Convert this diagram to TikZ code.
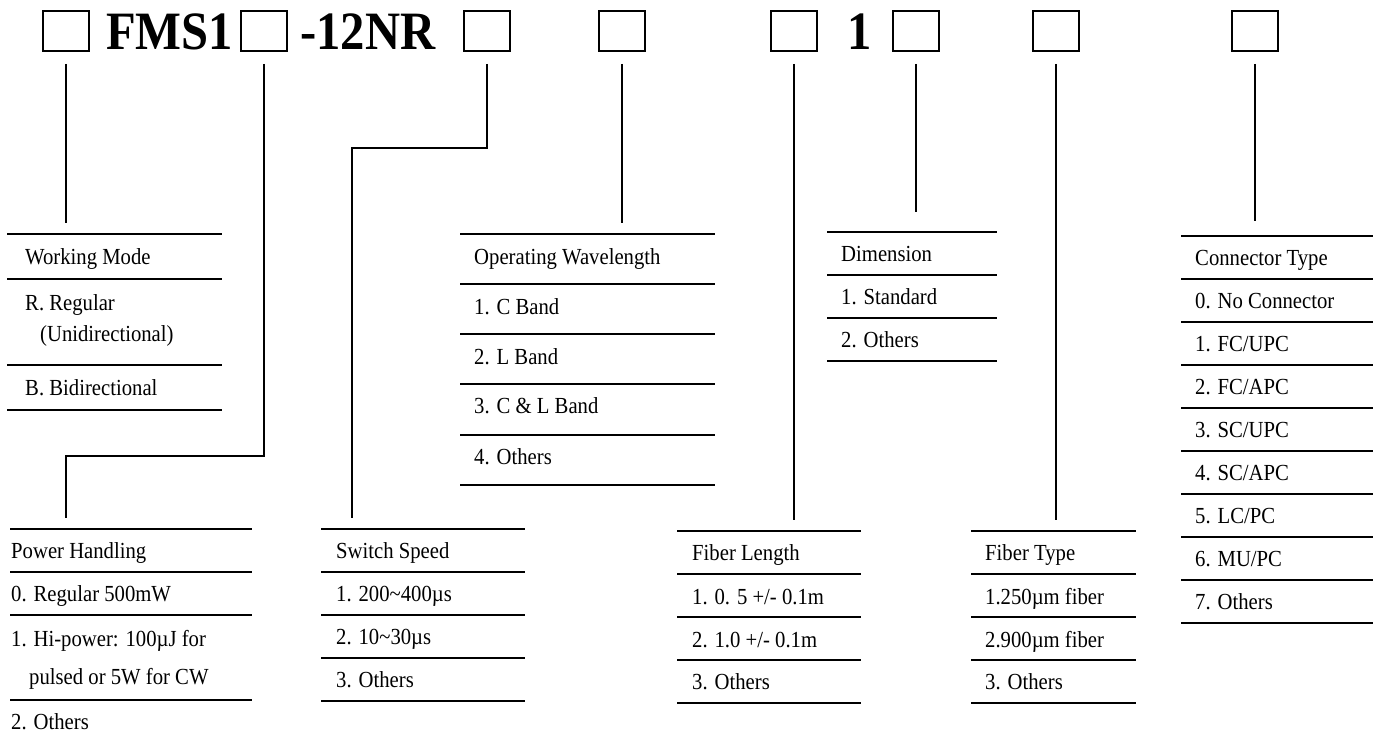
\documentclass[tikz,border=0pt]{standalone}
\usepackage{fontspec}
\setmainfont{Liberation Serif}[FakeStretch=0.9]
\tikzset{
  slot/.style={draw, line width=1.8pt, minimum width=46pt, minimum height=40pt, inner sep=0pt},
  code/.style={font=\fontsize{54}{60}\selectfont\bfseries, inner sep=0pt, anchor=base},
  link/.style={line width=1.6pt, shorten <=12pt, shorten >=11pt},
  rule/.style={line width=2.2pt},
  item/.style={font=\fontsize{23}{26}\selectfont, inner sep=0pt, anchor=base west},
}
\begin{document}
\begin{tikzpicture}[x=1pt,y=-1pt]
        \useasboundingbox (0,0) rectangle (1373,740);

        % Part number with its slots
        \node[slot] (s1) at (66,31) {};
        \node[code] (fms) at (169.5,49) {FMS1};
        \node[slot] (s2) at (264,31) {};
        \node[code] (nr) at (368,49) {-12NR};
        \node[slot] (s3) at (487,31) {};
        \node[slot] (s4) at (622,31) {};
        \node[slot] (s5) at (794,31) {};
        \node[code] (one) at (859.5,49) {1};
        \node[slot] (s6) at (916,31) {};
        \node[slot] (s7) at (1056,31) {};
        \node[slot] (s8) at (1255,31) {};

        % Top left corners of the tables, bends
        \coordinate (wm) at (7,234);
        \coordinate (ph) at (10,529);
        \coordinate (ss) at (321,529);
        \coordinate (ow) at (460,234);
        \coordinate (dm) at (827,232);
        \coordinate (fl) at (677,531);
        \coordinate (ft) at (971,531);
        \coordinate (ct) at (1181,236);
        \coordinate (bend2) at (66,456);
        \coordinate (bend3) at (352,148);

        % Connectors
        \draw[link] (s1.south) -- (s1.south |- wm);
        \draw[link] (s2.south) |- (bend2) -- (bend2 |- ph);
        \draw[link] (s3.south) |- (bend3) -- (bend3 |- ss);
        \draw[link] (s4.south) -- (s4.south |- ow);
        \draw[link] (s5.south) -- (s5.south |- fl);
        \draw[link, shorten >=20pt] (s6.south) -- (s6.south |- dm);
        \draw[link] (s7.south) -- (s7.south |- ft);
        \draw[link, shorten >=15pt] (s8.south) -- (s8.south |- ct);

        % Working Mode
        \draw[rule] (7,234) -- (222,234) (7,279) -- (222,279) (7,365) -- (222,365) (7,410) -- (222,410);
        \node[item] (wm0) at (25,264) {Working Mode};
        \node[item] (wm1) at (25,310) {R. Regular};
        \node[item] (wm2) at (40,341) {(Unidirectional)};
        \node[item] (wm3) at (25,395) {B. Bidirectional};

        % Power Handling
        \draw[rule] (10,529) -- (252,529) (10,572) -- (252,572) (10,615) -- (252,615) (10,700) -- (252,700);
        \node[item] (ph0) at (11,558) {Power Handling};
        \node[item] (ph1) at (11,601) {0. Regular 500mW};
        \node[item] (ph2) at (11,646) {1. Hi-power: 100µJ for};
        \node[item] (ph3) at (29,684) {pulsed or 5W for CW};
        \node[item] (ph4) at (11,729) {2. Others};

        % Switch Speed
        \draw[rule] (321,529) -- (525,529) (321,572) -- (525,572) (321,615) -- (525,615) (321,658) -- (525,658) (321,701) -- (525,701);
        \node[item] (ss0) at (336,558) {Switch Speed};
        \node[item] (ss1) at (336,601) {1. 200\textasciitilde 400µs};
        \node[item] (ss2) at (336,644) {2. 10\textasciitilde 30µs};
        \node[item] (ss3) at (336,687) {3. Others};

        % Operating Wavelength
        \draw[rule] (460,234) -- (715,234) (460,284) -- (715,284) (460,334) -- (715,334) (460,384) -- (715,384) (460,435) -- (715,435) (460,485) -- (715,485);
        \node[item] (ow0) at (474,264) {Operating Wavelength};
        \node[item] (ow1) at (474,314) {1. C Band};
        \node[item] (ow2) at (474,364) {2. L Band};
        \node[item] (ow3) at (474,413) {3. C \& L Band};
        \node[item] (ow4) at (474,464) {4. Others};

        % Dimension
        \draw[rule] (827,232) -- (997,232) (827,275) -- (997,275) (827,318) -- (997,318) (827,361) -- (997,361);
        \node[item] (dm0) at (841,261) {Dimension};
        \node[item] (dm1) at (841,304) {1. Standard};
        \node[item] (dm2) at (841,347) {2. Others};

        % Fiber Length
        \draw[rule] (677,531) -- (861,531) (677,574) -- (861,574) (677,617) -- (861,617) (677,660) -- (861,660) (677,703) -- (861,703);
        \node[item] (fl0) at (692,560) {Fiber Length};
        \node[item] (fl1) at (692,604) {1. 0. 5 +/- 0.1m};
        \node[item] (fl2) at (692,647) {2. 1.0 +/- 0.1m};
        \node[item] (fl3) at (692,689) {3. Others};

        % Fiber Type
        \draw[rule] (971,531) -- (1136,531) (971,574) -- (1136,574) (971,617) -- (1136,617) (971,660) -- (1136,660) (971,703) -- (1136,703);
        \node[item] (ft0) at (985,560) {Fiber Type};
        \node[item] (ft1) at (985,604) {1.250µm fiber};
        \node[item] (ft2) at (985,647) {2.900µm fiber};
        \node[item] (ft3) at (985,689) {3. Others};

        % Connector Type
        \draw[rule] (1181,236) -- (1373,236) (1181,279) -- (1373,279) (1181,322) -- (1373,322) (1181,365) -- (1373,365) (1181,408) -- (1373,408)
                    (1181,451) -- (1373,451) (1181,494) -- (1373,494) (1181,537) -- (1373,537) (1181,580) -- (1373,580) (1181,623) -- (1373,623);
        \node[item] (ct0) at (1195,265) {Connector Type};
        \node[item] (ct1) at (1195,308) {0. No Connector};
        \node[item] (ct2) at (1195,351) {1. FC/UPC};
        \node[item] (ct3) at (1195,394) {2. FC/APC};
        \node[item] (ct4) at (1195,437) {3. SC/UPC};
        \node[item] (ct5) at (1195,480) {4. SC/APC};
        \node[item] (ct6) at (1195,523) {5. LC/PC};
        \node[item] (ct7) at (1195,566) {6. MU/PC};
        \node[item] (ct8) at (1195,609) {7. Others};
    \end{tikzpicture}
\end{document}
